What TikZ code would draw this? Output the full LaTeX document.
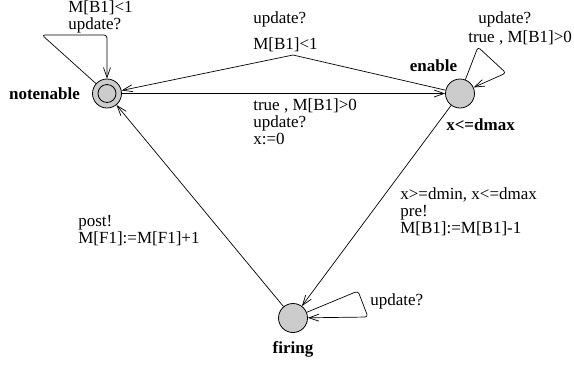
\documentclass[tikz,border=0pt]{standalone}
\usepackage{fontspec}
\setmainfont{Liberation Serif}
\usetikzlibrary{arrows.meta}

\tikzset{
  loc/.style={circle, draw, fill=gray!40, line width=0.8pt, minimum size=29pt, inner sep=0pt},
  initloc/.style={loc, path picture={\draw[line width=0.8pt] (path picture bounding box.center) circle (9pt);}},
  locname/.style={font=\fontsize{17}{17}\selectfont\bfseries, inner sep=1pt},
  tr/.style={line width=0.7pt, -{Straight Barb[length=10pt,width=7pt]}},
  lbl/.style={align=left, anchor=north west, inner sep=0pt}
}

\begin{document}
\begin{tikzpicture}[x=1pt, y=-1pt, font=\fontsize{17}{17}\selectfont]
        \useasboundingbox (0,0) rectangle (574,365);

        % Locations
        \node[initloc, label={[locname, label distance=11pt]left:notenable}] (notenable) at (107,93.5) {};
        \node[loc, label={[locname, xshift=-26.5pt, label distance=6pt]above:enable},
                   label={[locname, xshift=20.5pt, label distance=9.5pt]below:x<=dmax}] (enable) at (460,93.5) {};
        \node[loc, label={[locname, label distance=7.4pt]below:firing}] (firing) at (293,318) {};

        % Nails
        \coordinate (topnail) at (293,55);
        \coordinate (nloopA) at (42,35);
        \coordinate (nloopB) at (107,35);
        \coordinate (eloopA) at (478,47);
        \coordinate (eloopB) at (506,73);
        \coordinate (floopA) at (358,291);
        \coordinate (floopB) at (368,317);

        % Transitions
        \draw[tr] (notenable) -- (enable)
            node[lbl] at (253,98.4) {true , M[B1]>0\\update?\\x:=0};
        \draw[tr] (enable) -- (topnail) -- (notenable)
            node[lbl] at (253,11.4) {update?}
            node[lbl] at (253,37.4) {M[B1]<1};
        \draw[tr] (enable) -- (firing)
            node[lbl] at (400,187.4) {x>=dmin, x<=dmax\\pre!\\M[B1]:=M[B1]-1};
        \draw[tr] (firing) -- (notenable)
            node[lbl] at (78,215.4) {post!\\M[F1]:=M[F1]+1};

        % Self loops
        \draw[tr, rounded corners=3pt] (notenable) -- (nloopA) -- (nloopB) -- (notenable)
            node[lbl] at (68,0.5) {M[B1]<1\\update?};
        \draw[tr, rounded corners=3pt] (enable) -- (eloopA) -- (eloopB) -- (enable)
            node[lbl] at (478,11.4) {update?}
            node[lbl] at (468,30.4) {true , M[B1]>0};
        \draw[tr, rounded corners=3pt] (firing) -- (floopA) -- (floopB) -- (firing)
            node[lbl] at (370,293.4) {update?};
    \end{tikzpicture}
\end{document}
